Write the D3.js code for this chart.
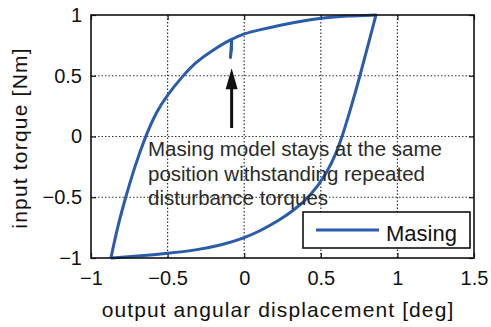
<!DOCTYPE html>
<html>
<head>
<meta charset="utf-8">
<script src="https://cdn.jsdelivr.net/npm/d3@7"></script>
<style>
  body { margin: 0; background: #fff; }
  svg { display: block; }
</style>
</head>
<body>
<div id="chart"></div>
<script>
// loop data (deg, Nm)
const upperX = [-0.87, -0.828, -0.774, -0.715, -0.645, -0.573, -0.502, -0.40, -0.314, -0.206, -0.097, 0.0, 0.103, 0.23, 0.35, 0.50, 0.67, 0.865];
const upperY = [-1.0, -0.75, -0.5, -0.25, 0.0, 0.205, 0.342, 0.5, 0.615, 0.711, 0.793, 0.848, 0.879, 0.915, 0.945, 0.975, 0.993, 1.0];
const lowerX = [-0.87, -0.70, -0.5, -0.3, -0.15, 0.0, 0.1, 0.234, 0.33, 0.43, 0.54, 0.60, 0.64, 0.70, 0.756, 0.808, 0.86];
const lowerY = [-1.0, -0.985, -0.963, -0.932, -0.895, -0.835, -0.78, -0.687, -0.60, -0.495, -0.30, -0.14, 0.0, 0.25, 0.50, 0.75, 1.0];
// the repeated disturbance: short drop and return
const spikeX = [-0.082, -0.083, -0.09, -0.087, -0.082];
const spikeY = [0.80, 0.72, 0.65, 0.70, 0.80];

const xTicks = [-1, -0.5, 0, 0.5, 1, 1.5];
const yTicks = [-1, -0.5, 0, 0.5, 1];
const xLabel = "output angular displacement [deg]";
const yLabel = "input torque [Nm]";
const seriesName = "Masing";
const noteLines = ["Masing model stays at the same", "position withstanding repeated", "disturbance torques"];
const arrowX = -0.082, arrowFrom = 0.07, arrowTo = 0.561;

const width = 491, height = 327;
const margin = { top: 15, right: 17, bottom: 69, left: 91 };
const plotW = width - margin.left - margin.right;
const plotH = height - margin.top - margin.bottom;
const blue = "#2b5cab";
const font = "'Liberation Sans', Arial, sans-serif";

const svg = d3.select("#chart").append("svg")
  .attr("width", width).attr("height", height);

const x = d3.scaleLinear().domain([-1, 1.5]).range([0, plotW]);
const y = d3.scaleLinear().domain([-1, 1]).range([plotH, 0]);
const fmt = d3.format("~g");

const g = svg.append("g").attr("transform", `translate(${margin.left},${margin.top})`);

// dotted grid on the inner ticks
g.append("g").selectAll("line")
  .data(xTicks.slice(1, -1)).enter().append("line")
  .attr("x1", d => x(d)).attr("x2", d => x(d))
  .attr("y1", 0).attr("y2", plotH)
  .attr("stroke", "#333").attr("stroke-width", 1.2).attr("stroke-dasharray", "1.5,2");
g.append("g").selectAll("line")
  .data(yTicks.slice(1, -1)).enter().append("line")
  .attr("y1", d => y(d)).attr("y2", d => y(d))
  .attr("x1", 0).attr("x2", plotW)
  .attr("stroke", "#333").attr("stroke-width", 1.2).attr("stroke-dasharray", "1.5,2");

// axes, ticks pointing inward like matlab
const styleAxis = sel => {
  sel.select(".domain").remove();
  sel.selectAll("line").attr("stroke", "#111").attr("stroke-width", 1.2);
  sel.selectAll("text").attr("font-family", font).attr("font-size", 20).attr("fill", "#111");
};
g.append("g").attr("transform", `translate(0,${plotH})`)
  .call(d3.axisBottom(x).tickValues(xTicks).tickFormat(fmt).tickSizeInner(-5).tickSizeOuter(0).tickPadding(13))
  .call(styleAxis);
g.append("g")
  .call(d3.axisLeft(y).tickValues(yTicks).tickFormat(fmt).tickSizeInner(-5).tickSizeOuter(0).tickPadding(9))
  .call(styleAxis);
g.append("g")
  .call(d3.axisTop(x).tickValues(xTicks).tickFormat("").tickSizeInner(-5).tickSizeOuter(0))
  .call(styleAxis);
g.append("g").attr("transform", `translate(${plotW},0)`)
  .call(d3.axisRight(y).tickValues(yTicks).tickFormat("").tickSizeInner(-5).tickSizeOuter(0))
  .call(styleAxis);

// the loop - basis spline smooths out my reading noise
const branches = [
  d3.zip(upperX, upperY),
  d3.zip(lowerX, lowerY)
];
g.append("g").selectAll("path")
  .data(branches).enter().append("path")
  .attr("d", d3.line().x(d => x(d[0])).y(d => y(d[1])).curve(d3.curveBasis))
  .attr("fill", "none")
  .attr("stroke", blue)
  .attr("stroke-width", 3)
  .attr("stroke-linejoin", "round");
g.append("path")
  .datum(d3.zip(spikeX, spikeY))
  .attr("d", d3.line().x(d => x(d[0])).y(d => y(d[1])))
  .attr("fill", "none")
  .attr("stroke", blue)
  .attr("stroke-width", 3)
  .attr("stroke-linejoin", "round");

// frame
g.append("rect")
  .attr("width", plotW).attr("height", plotH)
  .attr("fill", "none").attr("stroke", "#111").attr("stroke-width", 1.6);

// arrow
const ax = x(arrowX);
g.append("line")
  .attr("x1", ax).attr("x2", ax)
  .attr("y1", y(arrowFrom)).attr("y2", y(arrowTo) + 15)
  .attr("stroke", "#111").attr("stroke-width", 3);
g.append("path")
  .attr("d", `M${ax},${y(arrowTo)} L${ax - 6},${y(arrowTo) + 21} L${ax + 6},${y(arrowTo) + 21} Z`)
  .attr("fill", "#111");

// note
g.append("g").selectAll("text")
  .data(noteLines).enter().append("text")
  .attr("x", 148 - margin.left)
  .attr("y", (d, i) => 156 - margin.top + i * 24.7)
  .attr("font-family", font)
  .attr("font-size", 20.5)
  .attr("fill", "#2a2a2a")
  .text(d => d);

// legend
const lg = g.append("g").attr("transform", `translate(${303 - margin.left},${212 - margin.top})`);
lg.append("rect").attr("width", 167).attr("height", 36)
  .attr("fill", "#fff").attr("stroke", "#111").attr("stroke-width", 1.6);
lg.append("line").attr("x1", 13).attr("x2", 76).attr("y1", 18).attr("y2", 18)
  .attr("stroke", blue).attr("stroke-width", 3);
lg.append("text").attr("x", 83).attr("y", 29)
  .attr("font-family", font).attr("font-size", 22).attr("fill", "#111")
  .text(seriesName);

// axis titles
svg.append("text")
  .attr("x", 278).attr("y", 317)
  .attr("text-anchor", "middle")
  .attr("font-family", font).attr("font-size", 21).attr("letter-spacing", 1.1)
  .attr("fill", "#111")
  .text(xLabel);
svg.append("text")
  .attr("transform", "translate(27,138) rotate(-90)")
  .attr("text-anchor", "middle")
  .attr("font-family", font).attr("font-size", 21).attr("letter-spacing", 1.2)
  .attr("fill", "#111")
  .text(yLabel);
</script>
</body>
</html>
